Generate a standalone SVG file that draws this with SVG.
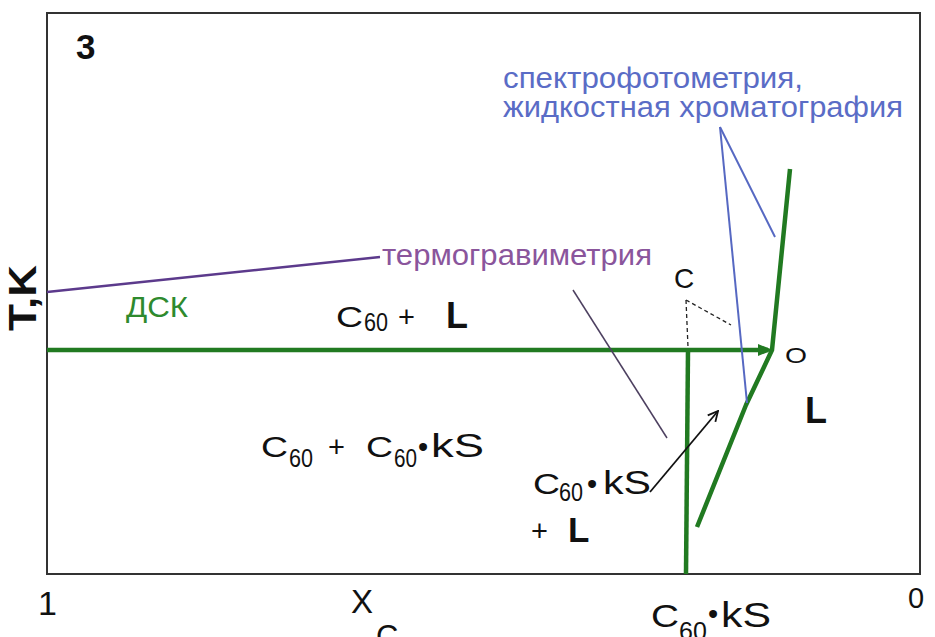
<svg xmlns="http://www.w3.org/2000/svg" width="935" height="637" viewBox="0 0 935 637">
<defs>
<style>
text{font-family:"Liberation Sans",Arial,sans-serif;fill:#111}
.b{font-weight:bold}
.g{stroke:#217a21;stroke-width:4.5;fill:none;stroke-linejoin:round}
.blue{stroke:#5668c2;stroke-width:2;fill:none}
.dash{stroke:#222;stroke-width:1.3;stroke-dasharray:4 3;fill:none}
.c{font-size:29px}
.s{font-size:25px}
</style>
<marker id="arr" viewBox="0 0 12 12" refX="11" refY="6" markerWidth="12" markerHeight="12" markerUnits="userSpaceOnUse" orient="auto">
<path d="M1,1 L11,6 L1,11" fill="none" stroke="#111" stroke-width="1.8"/>
</marker>
</defs>
<rect width="935" height="637" fill="#fff"/>
<g id="frame"><rect x="47" y="13" width="873" height="561" fill="none" stroke="#333" stroke-width="2"/></g>
<g id="connectors">
<line x1="47" y1="350" x2="768" y2="350" class="g"/>
<polygon points="758,344 773,350 758,356" fill="#217a21"/>
<line x1="688" y1="350" x2="686" y2="574" class="g" stroke-width="5"/>
<polyline points="790,169 772,350 746,405 697,527" class="g"/>
<line x1="720" y1="127" x2="747" y2="403" class="blue"/>
<line x1="720" y1="127" x2="775" y2="237" class="blue" stroke="#56639e"/>
<line x1="47" y1="292" x2="380" y2="257" stroke="#5c3a8c" stroke-width="2.5"/>
<line x1="573" y1="290" x2="667" y2="438" stroke="#4d4060" stroke-width="1.5"/>
<line x1="686" y1="300" x2="688" y2="347" class="dash"/>
<line x1="686" y1="300" x2="731" y2="325" class="dash"/>
<line x1="650" y1="492" x2="718" y2="411" stroke="#111" stroke-width="1.8" marker-end="url(#arr)"/>
</g>
<g id="label-3"><text x="76" y="59" class="b" font-size="35">3</text></g>
<g id="axis-T"><text transform="translate(36,331) rotate(-90)" class="b" font-size="39" textLength="66" lengthAdjust="spacingAndGlyphs">T,K</text></g>
<g id="label-spectro">
<text x="503" y="88" font-size="30" textLength="300" lengthAdjust="spacingAndGlyphs" style="fill:#5a6cc6">спектрофотометрия,</text>
<text x="503" y="117" font-size="30" textLength="400" lengthAdjust="spacingAndGlyphs" style="fill:#5a6cc6">жидкостная хроматография</text>
</g>
<g id="label-thermo"><text x="382" y="265" font-size="30" textLength="270" lengthAdjust="spacingAndGlyphs" style="fill:#8a559c">термогравиметрия</text></g>
<g id="label-dsc"><text x="126" y="317" font-size="30" textLength="62" lengthAdjust="spacingAndGlyphs" style="fill:#2e8a2e">ДСК</text></g>
<g id="label-C"><text x="674" y="288" font-size="28">C</text></g>
<g id="label-O"><text x="785" y="363" font-size="22" textLength="22" lengthAdjust="spacingAndGlyphs">O</text></g>
<g id="label-L"><text x="805" y="423" class="b" font-size="36">L</text></g>
<g id="region-C60-L">
<text x="336" y="327" class="c" textLength="27" lengthAdjust="spacingAndGlyphs">C</text>
<text x="364" y="331" class="s" textLength="24" lengthAdjust="spacingAndGlyphs">60</text>
<text x="398" y="327" class="c">+</text>
<text x="446" y="328" class="b" font-size="36">L</text>
</g>
<g id="region-C60-C60kS">
<text x="261" y="457" class="c" textLength="27" lengthAdjust="spacingAndGlyphs">C</text>
<text x="289" y="467" class="s" textLength="24" lengthAdjust="spacingAndGlyphs">60</text>
<text x="328" y="457" class="c">+</text>
<text x="366" y="457" class="c" textLength="27" lengthAdjust="spacingAndGlyphs">C</text>
<text x="394" y="467" class="s" textLength="23" lengthAdjust="spacingAndGlyphs">60</text>
<text x="418" y="457" class="c">•</text>
<text x="431" y="457" font-size="33" textLength="53" lengthAdjust="spacingAndGlyphs">kS</text>
</g>
<g id="region-C60kS-L">
<text x="533" y="494" class="c" textLength="27" lengthAdjust="spacingAndGlyphs">C</text>
<text x="559" y="501" class="s" textLength="24" lengthAdjust="spacingAndGlyphs">60</text>
<text x="587" y="494" class="c">•</text>
<text x="603" y="494" font-size="33" textLength="48" lengthAdjust="spacingAndGlyphs">kS</text>
<text x="531" y="541" class="c">+</text>
<text x="568" y="542" class="b" font-size="35">L</text>
</g>
<g id="axis-x">
<text x="38" y="615" font-size="34">1</text>
<text x="908" y="608" font-size="29">0</text>
<text x="351" y="613" font-size="33">X</text>
<text x="376" y="647" font-size="31">C</text>
<text x="404" y="655" class="s">60</text>
<text x="651" y="627" font-size="32" textLength="28" lengthAdjust="spacingAndGlyphs">C</text>
<text x="679" y="640" class="s">60</text>
<text x="708" y="624" class="c">•</text>
<text x="721" y="627" font-size="35" textLength="50" lengthAdjust="spacingAndGlyphs">kS</text>
</g>
</svg>
